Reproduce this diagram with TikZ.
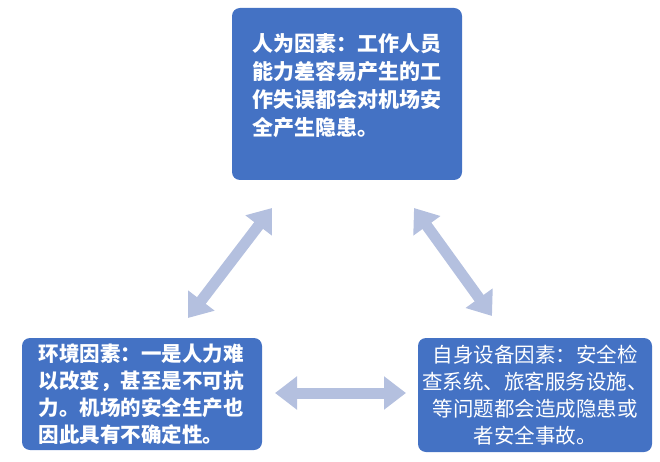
\documentclass[tikz,border=0pt]{standalone}
\usepackage{fontspec}
\newfontfamily\cjk{Noto Sans CJK SC}
\usetikzlibrary{arrows.meta}
\begin{document}
\begin{tikzpicture}[x=1pt,y=-1pt,
	factor/.style={draw=none,fill=boxblue,rounded corners=8pt,text=white,font=\cjk\fontsize{21pt}{28pt}\selectfont,align=left},
	link/.style={line width=11pt,draw=arrowgray,{Triangle[width=32pt,length=22pt]}-{Triangle[width=32pt,length=22pt]}}]
	\definecolor{boxblue}{HTML}{4472C4}
	\definecolor{arrowgray}{HTML}{B4C0DF}
	\useasboundingbox (0,0) rectangle (660,462);
	\fill[boxblue,rounded corners=8pt] (232,8) rectangle (462,180);
	\node[factor,font=\cjk\bfseries\fontsize{21pt}{28pt}\selectfont] (human) at (347,86) {人为因素：工作人员\\能力差容易产生的工\\作失误都会对机场安\\全产生隐患。};
	\fill[boxblue,rounded corners=8pt] (22,338) rectangle (262,450);
	\node[factor,font=\cjk\bfseries\fontsize{20.5pt}{27pt}\selectfont] (env) at (141,394) {环境因素：一是人力难\\以改变，甚至是不可抗\\力。机场的安全生产也\\因此具有不确定性。};
	\fill[boxblue,rounded corners=8pt] (418,338) rectangle (652,452);
	\node[factor,align=center,font=\cjk\fontsize{20.5pt}{27pt}\selectfont] (equip) at (535,395) {自身设备因素：安全检\\查系统、旅客服务设施、\\等问题都会造成隐患或\\者安全事故。};
	\coordinate (h1) at (272,208);
	\coordinate (e1) at (188,318);
	\coordinate (h2) at (414,208);
	\coordinate (q1) at (492,316);
	\coordinate (e2) at (275,393);
	\coordinate (q2) at (406,393);
	\draw[link] (h1) -- (e1);
	\draw[link] (h2) -- (q1);
	\draw[link] (e2) -- (q2);
\end{tikzpicture}
\end{document}
